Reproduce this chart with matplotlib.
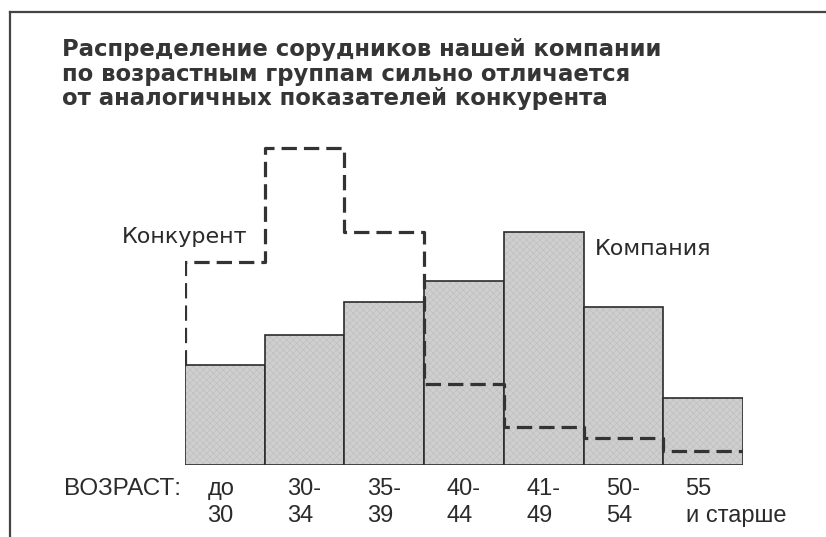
import matplotlib.pyplot as plt
from matplotlib.lines import Line2D

ages = ["до\n30", "30-\n34", "35-\n39", "40-\n44", "41-\n49", "50-\n54", "55\nи старше"]
company = [10.0, 13.0, 16.3, 18.4, 23.3, 15.8, 6.7]
competitor = [20.3, 31.7, 23.3, 8.1, 3.8, 2.7, 1.4]

title = ["Распределение сорудников нашей компании",
         "по возрастным группам сильно отличается",
         "от аналогичных показателей конкурента"]

plt.rcParams['font.family'] = ['DejaVu Sans']
ink = '#2b2b2b'

fig = plt.figure(figsize=(8.26, 5.37), dpi=100)
ax = fig.add_axes([185/826, 72/537, 558/826, 350/537])

n = len(company)
xs = list(range(n))
bars = ax.bar(xs, company, width=1.0, align='edge', color='#cfcfcf',
              edgecolor=ink, linewidth=1.2, hatch='xxxxx', zorder=2)
for b in bars:
    b._hatch_color = (0.74, 0.74, 0.74, 1.0)
    b.set_hatch_linewidth(0.4)

# dashed competitor outline (step)
px = [0]
py = [company[0]]
for i, v in enumerate(competitor):
    px += [i, i + 1]
    py += [v, v]
ax.plot(px, py, color='#333333', lw=2.3, dashes=(4.8, 2.2), zorder=3,
        dash_capstyle='butt')

ax.set_xlim(0, n)
ax.set_ylim(0, 35)
ax.axis('off')

ax.text(0.78, 22.2, "Конкурент", ha='right', va='baseline', fontsize=16, color=ink)
ax.text(5.14, 21.0, "Компания", ha='left', va='baseline', fontsize=16, color=ink)

for i, lab in enumerate(ages):
    for k, part in enumerate(lab.split("\n")):
        ax.text(i + 0.28, -3.0 - 2.7 * k, part, ha='left', va='baseline',
                fontsize=17, family='Liberation Sans', color=ink)
ax.text(-0.05, -3.0, "ВОЗРАСТ:", ha='right', va='baseline', fontsize=17.5,
        family='Liberation Sans', color=ink)

for k, line in enumerate(title):
    fig.text(62/826, 1 - (56 + 24.5 * k)/537, line, ha='left', va='baseline',
             fontsize=16.4, fontweight='bold', color='#353535')

# frame
fig.add_artist(Line2D([10/826, 10/826], [0, 1 - 12/537], color='#444444', lw=1.6))
fig.add_artist(Line2D([10/826, 1], [1 - 12/537, 1 - 12/537], color='#444444', lw=1.6))

fig.savefig("out.png", dpi=100)
